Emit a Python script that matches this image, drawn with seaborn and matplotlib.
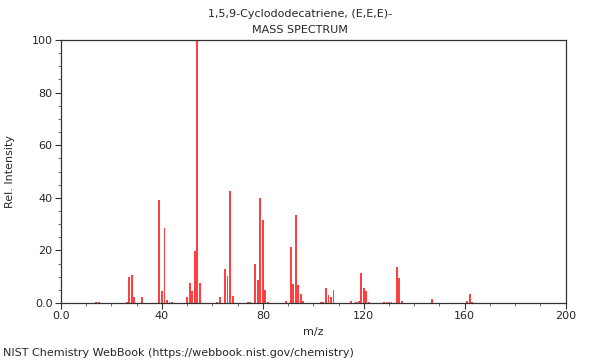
import numpy as np
import pandas as pd
import seaborn as sns
import matplotlib
matplotlib.use('Agg')
import matplotlib.pyplot as plt
from matplotlib.ticker import MultipleLocator, FuncFormatter

# peaks (m/z, relative intensity)
mz = [14, 15, 26, 27, 28, 29, 32, 39, 40, 41, 42, 43, 44,
      50, 51, 52, 53, 54, 55, 62, 63, 65, 66, 67, 68,
      74, 75, 77, 78, 79, 80, 81, 82, 89, 91, 92, 93, 94, 95, 96,
      103, 104, 105, 106, 107, 108, 115, 117, 118, 119, 120, 121, 122,
      128, 129, 130, 131, 133, 134, 135, 147, 161, 162, 163]
intensity = [0.3, 0.4, 0.5, 10.0, 10.8, 2.3, 2.3, 39.3, 4.7, 28.5, 1.1, 0.5, 0.5,
             2.4, 7.6, 4.7, 19.8, 100.0, 7.5, 0.5, 2.4, 13.0, 10.3, 42.6, 2.8,
             0.3, 0.4, 15.0, 8.6, 40.0, 31.6, 4.9, 0.5, 0.7, 21.3, 7.2, 33.3, 6.7, 3.4, 0.8,
             0.5, 0.5, 5.8, 3.0, 2.4, 4.8, 0.8, 0.5, 0.8, 11.4, 5.8, 4.6, 0.5,
             0.4, 0.4, 0.4, 0.4, 13.7, 9.5, 0.8, 1.6, 0.8, 3.4, 0.4]

title_lines = ['1,5,9-Cyclododecatriene, (E,E,E)-', 'MASS SPECTRUM']
footer = 'NIST Chemistry WebBook (https://webbook.nist.gov/chemistry)'

df = pd.DataFrame({'mz': mz, 'intensity': intensity})

sns.set_theme(style='white')
plt.rcParams['font.family'] = ['DejaVu Sans']

fig = plt.figure(figsize=(6, 3.6), dpi=100)
ax = fig.add_axes([0.1017, 0.158, 0.841, 0.731])

sns.barplot(data=df, x='mz', y='intensity', native_scale=True, width=0.75,
            color='#ff4040', saturation=1, errorbar=None, linewidth=0,
            edgecolor='none', ax=ax)

ax.set_xlim(0, 200)
ax.set_ylim(0, 100)
ax.xaxis.set_major_locator(MultipleLocator(40))
ax.xaxis.set_minor_locator(MultipleLocator(10))
ax.yaxis.set_major_locator(MultipleLocator(20))
ax.yaxis.set_minor_locator(MultipleLocator(5))
fmt = FuncFormatter(lambda v, p: '0.0' if v == 0 else '%d' % v)
ax.xaxis.set_major_formatter(fmt)
ax.yaxis.set_major_formatter(fmt)
ax.tick_params(which='major', direction='out', length=4, width=0.8,
               color='#333333', labelsize=8, pad=2, bottom=True, left=True)
ax.tick_params(which='minor', direction='out', length=2, width=0.6,
               color='#555555', bottom=True, left=True)

for s in ax.spines.values():
    s.set_color('#333333')
    s.set_linewidth(0.9)

ax.set_xlabel('m/z', fontsize=8, labelpad=4)
ax.set_ylabel('Rel. Intensity', fontsize=8, labelpad=12)

fig.text(0.5, 0.96, title_lines[0], ha='center', va='center', fontsize=8)
fig.text(0.5, 0.916, title_lines[1], ha='center', va='center', fontsize=8)
fig.text(0.005, 0.02, footer, ha='left', va='center', fontsize=8)

plt.savefig('out.png', dpi=100)
